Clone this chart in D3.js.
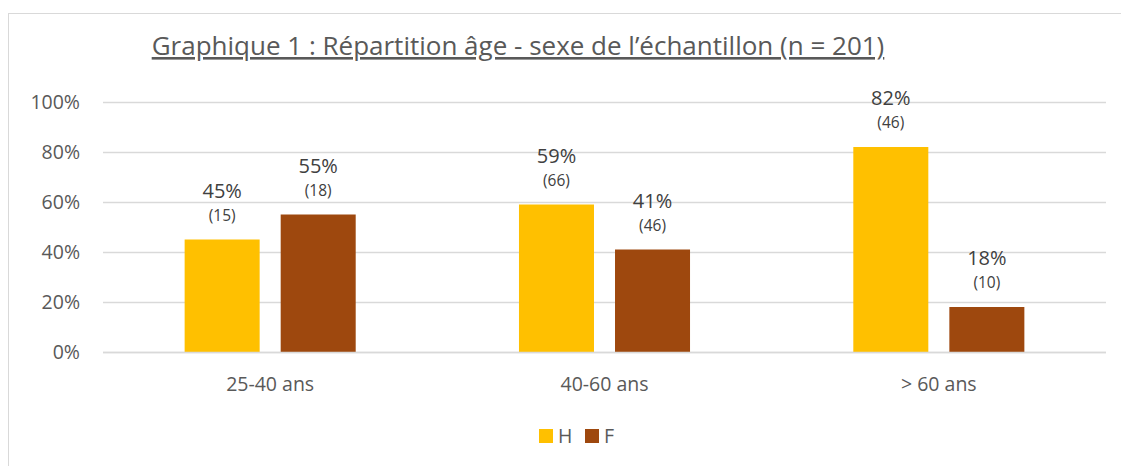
<!DOCTYPE html>
<html>
<head>
<meta charset="utf-8">
<script src="https://cdn.jsdelivr.net/npm/d3@7"></script>
<style>
  body { margin: 0; background: #fff; }
  svg { display: block; font-family: "Open Sans", sans-serif; }
</style>
</head>
<body>
<svg id="chart" width="1121" height="466"></svg>
<script>
// data
var categories = ["25-40 ans", "40-60 ans", "> 60 ans"];
var series = ["H", "F"];
var percentH = [45, 59, 82];
var percentF = [55, 41, 18];
var countH = [15, 66, 46];
var countF = [18, 46, 10];
var yTicks = [0, 20, 40, 60, 80, 100];
var colors = { H: "#FFC000", F: "#9E480E" };

var svg = d3.select("#chart");
var plotLeft = 103, plotRight = 1106, plotTop = 102, plotBottom = 352;

// outer frame
svg.append("rect")
    .attr("x", 8.5).attr("y", 13.5)
    .attr("width", 1130).attr("height", 470)
    .attr("fill", "none").attr("stroke", "#d9d9d9");

// title
svg.append("text")
    .attr("x", 518).attr("y", 55)
    .attr("text-anchor", "middle")
    .attr("fill", "#595959")
    .attr("font-size", 26)
    .attr("text-decoration", "underline")
    .text("Graphique 1 : Répartition âge - sexe de l’échantillon (n = 201)");

var y = d3.scaleLinear().domain([0, 100]).range([plotBottom, plotTop]);
var x0 = d3.scaleBand().domain(categories).range([plotLeft, plotRight]);
var x1 = d3.scaleBand().domain(series).range([0, x0.bandwidth()])
    .paddingInner(0.219).paddingOuter(0.85);

// gridlines
svg.append("g").selectAll("line")
    .data(yTicks)
    .enter()
    .append("line")
    .attr("x1", plotLeft).attr("x2", plotRight)
    .attr("y1", function (d) { return y(d) + 0.5; })
    .attr("y2", function (d) { return y(d) + 0.5; })
    .attr("stroke", "#d9d9d9")
    .attr("stroke-width", 1.5);

// y axis labels
svg.append("g").selectAll("text")
    .data(yTicks)
    .enter()
    .append("text")
    .attr("x", 80)
    .attr("y", function (d) { return y(d); })
    .attr("dy", "0.35em")
    .attr("text-anchor", "end")
    .attr("fill", "#595959")
    .attr("font-size", 19.5)
    .text(function (d) { return d + "%"; });

// rows for bars
var rows = [];
categories.forEach(function (c, i) {
    rows.push({ cat: c, s: "H", pct: percentH[i], n: countH[i] });
    rows.push({ cat: c, s: "F", pct: percentF[i], n: countF[i] });
});

svg.append("g").selectAll("rect")
    .data(rows)
    .enter()
    .append("rect")
    .attr("x", function (d) { return x0(d.cat) + x1(d.s); })
    .attr("y", function (d) { return y(d.pct); })
    .attr("width", x1.bandwidth())
    .attr("height", function (d) { return plotBottom - y(d.pct); })
    .attr("fill", function (d) { return colors[d.s]; });

// redraw baseline over bars
svg.append("line")
    .attr("x1", plotLeft).attr("x2", plotRight)
    .attr("y1", plotBottom + 0.5).attr("y2", plotBottom + 0.5)
    .attr("stroke", "#d9d9d9").attr("stroke-width", 1.5);

// data labels
var labels = svg.append("g").selectAll("g")
    .data(rows)
    .enter()
    .append("g")
    .attr("transform", function (d) {
        return "translate(" + (x0(d.cat) + x1(d.s) + x1.bandwidth() / 2) + "," + y(d.pct) + ")";
    });
labels.append("text")
    .attr("y", -42)
    .attr("text-anchor", "middle")
    .attr("fill", "#404040")
    .attr("font-size", 20)
    .text(function (d) { return d.pct + "%"; });
labels.append("text")
    .attr("y", -19)
    .attr("text-anchor", "middle")
    .attr("fill", "#404040")
    .attr("font-size", 15.5)
    .text(function (d) { return "(" + d.n + ")"; });

// category labels
svg.append("g").selectAll("text")
    .data(categories)
    .enter()
    .append("text")
    .attr("x", function (d) { return x0(d) + x0.bandwidth() / 2; })
    .attr("y", 391)
    .attr("text-anchor", "middle")
    .attr("fill", "#595959")
    .attr("font-size", 19.5)
    .text(function (d) { return d; });

// legend
var legendX = [539, 585];
var legend = svg.append("g").selectAll("g")
    .data(series)
    .enter()
    .append("g")
    .attr("transform", function (d, i) { return "translate(" + legendX[i] + ",429)"; });
legend.append("rect")
    .attr("width", 14).attr("height", 14)
    .attr("fill", function (d) { return colors[d]; });
legend.append("text")
    .attr("x", 19).attr("y", 14)
    .attr("fill", "#595959")
    .attr("font-size", 19.5)
    .text(function (d) { return d; });
</script>
</body>
</html>
